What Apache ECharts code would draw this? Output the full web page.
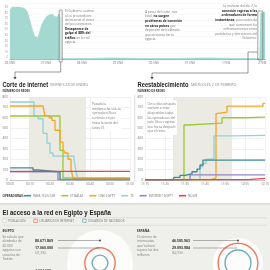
<!DOCTYPE html>
<html><head><meta charset="utf-8">
<script src="https://cdn.jsdelivr.net/npm/echarts@6/dist/echarts.min.js"></script>
<style>html,body{margin:0;padding:0;background:#fff}#c{width:270px;height:270px}</style>
</head><body><div id="c"></div>
<script>
// ---------- DATA ----------
const trafficDays = ['26 ENE','27 ENE','28 ENE','29 ENE','30 ENE','31 ENE','1 FEB','2 FEB'];
// hours since 26 ENE 12:00
const trafficHours  = [0,0.7,1.5,3,5,7,9,10.5,11.5,12.5,13.5,14.5,15.5,16.5,17.5,18.5,19.5,20.5,21.5,22.5,23.5,24.5,25.5,26.5,27.5,28.5,29.5,30.5,31.5,32.5,33.3,33.8,34.3,50,70,90,110,130,150,166.5,167.2,168,170];
const trafficValues = [87,90,93,92,93,92,91,88,84,76,66,56,47,40,37,38,46,55,63,68,72,76,74,79,77,80,76,79,75,80,77,73,1,1,2,1,1,2,1,1,82,84,84];

const operators = ['RAYA TELECOM','ETISALAT','LINK EGYPT','TE','INTERNET EGYPT','NOOR'];

const cutTicks  = ['00:00','00:10','00:20','00:30','00:40','00:50','01:00'];
const restTicks = ['11:15','11:25','11:35','11:45','11:55','12:05','12:15'];
const cutShade  = [9.5, 38];
const restShade = [14, 43.5];

// [minutes, number of networks]
const cutRaya          = [[0,117],[11.5,96],[14,77],[25,5],[60,5]];
const cutEtisalat      = [[0,617],[25,285],[26.5,20],[60,20]];
const cutLink          = [[0,713],[16.5,700],[17.5,620],[19.5,600],[21,575],[22.5,480],[25,365],[26.5,300],[27.5,260],[29,200],[30.5,110],[31.5,15],[60,15]];
const cutTE            = [[0,752],[12,615],[14,590],[16.5,450],[18.5,355],[20,260],[21.5,230],[32,200],[33,80],[34,10],[60,10]];
const cutInternetEgypt = [[0,78],[24,3],[60,3]];
const cutNoor          = [[0,83],[60,83]];

const restRaya          = [[0,2],[14,3],[14.5,25],[17.5,45],[20,60],[23.5,80],[26,105],[27.5,145],[29,192],[60,192]];
const restEtisalat      = [[0,2],[19.5,530],[21,548],[38.5,600],[50,606],[60,606]];
const restLink          = [[0,2],[32.5,20],[35.5,640],[36.5,655],[41,712],[59,738],[60,738]];
const restTE            = [[0,2],[27.5,130],[29,160],[30.5,200],[34.5,425],[45,430],[60,430]];
const restInternetEgypt = [[0,2],[22.5,50],[60,50]];
const restNoor          = [[0,3],[51.5,15],[60,15]];

const countries     = ['EGIPTO','ESPAÑA'];
const population    = [80671869, 46505963];
const internetUsers = [17060000, 29093984];
const facebookUsers = [4634600, 12500000];
const internetShare = ['(21,2%)','(62,5%)'];
const circleSeriesNames = ['POBLACIÓN','USUARIOS DE INTERNET','USUARIOS DE FACEBOOK'];

// ---------- STYLE ----------
const SANS = '"Open Sans","Liberation Sans",sans-serif';
const HEAD = '"Liberation Sans",Arial,sans-serif';
const opColors = ['#3b8f96','#9bc93a','#f6a623','#93d0d8','#9184c6','#e8434e'];
const tiny = 3.2;
const fmtNum = v => v.toString().replace(/\B(?=(\d{3})+(?!\d))/g,'.');

function T(x,y,text,o){
  o = o||{};
  const st = {text:text, fontSize:o.size||tiny, fontFamily:o.family||SANS, fontWeight:o.weight||'normal',
    fill:o.color||'#7a7a7a', align:o.align||'left', verticalAlign:o.va||'top'};
  if(o.lh) st.lineHeight=o.lh;
  if(o.bg){st.backgroundColor=o.bg; st.padding=o.pad||[1,1];}
  if(o.bold){st.rich={b:{fontWeight:'bold',fill:'#222',fontSize:o.size||tiny,fontFamily:o.family||SANS,lineHeight:o.lh}};}
  const el = {type:'text',x:x,y:y,z:o.z||60,silent:true,style:st};
  if(o.sx){el.scaleX=o.sx;}
  return el;
}
function L(points,o){
  o=o||{};
  return {type:'polyline',z:o.z||55,silent:true,shape:{points:points},style:{stroke:o.color||'#555',lineWidth:o.w||0.6,fill:null}};
}
function Arrow(x,y){
  return {type:'polygon',z:56,silent:true,shape:{points:[[x-1.6,y-2.6],[x+1.6,y-2.6],[x,y]]},style:{fill:'#444'}};
}

const chart = echarts.init(document.getElementById('c'), null, {renderer:'canvas',width:270,height:270});

const midX = (ticks,idx)=>({
  type:'value',gridIndex:idx,min:0,max:60,interval:10,
  axisLine:{lineStyle:{color:'#999',width:0.5}},axisTick:{show:false},
  axisLabel:{fontSize:tiny,color:'#777',margin:3,fontFamily:SANS,formatter:v=>ticks[Math.round(v/10)]||''},
  splitLine:{show:true,lineStyle:{color:'#e6e6e6',width:0.5}}
});
const midY = idx=>({
  type:'value',gridIndex:idx,min:0,max:800,interval:100,
  axisLine:{show:false},axisTick:{show:false},
  axisLabel:{fontSize:tiny,color:'#777',margin:2,fontFamily:SANS},
  splitLine:{lineStyle:{color:'#e3e3e3',width:0.5}}
});

const cutData  = [cutRaya,cutEtisalat,cutLink,cutTE,cutInternetEgypt,cutNoor];
const restData = [restRaya,restEtisalat,restLink,restTE,restInternetEgypt,restNoor];
const drawOrder = [3,1,2,0,4,5];

const series = [];
series.push({type:'line',xAxisIndex:0,yAxisIndex:0,silent:true,showSymbol:false,
  data:trafficHours.map((h,i)=>[h,trafficValues[i]]),
  lineStyle:{width:0.5,color:'#8ccfc6'},areaStyle:{color:'#a4d9d2',opacity:1}});
series.push({type:'line',xAxisIndex:1,yAxisIndex:1,data:[],silent:true,
  markArea:{silent:true,itemStyle:{color:'#ecebe3'},data:[[{xAxis:cutShade[0]},{xAxis:cutShade[1]}]]}});
series.push({type:'line',xAxisIndex:2,yAxisIndex:2,data:[],silent:true,
  markArea:{silent:true,itemStyle:{color:'#ecebe3'},data:[[{xAxis:restShade[0]},{xAxis:restShade[1]}]]}});
[[cutData,1],[restData,2]].forEach(([set,ax])=>{
  drawOrder.forEach(i=>{
    series.push({type:'line',name:operators[i],xAxisIndex:ax,yAxisIndex:ax,step:'end',showSymbol:false,silent:true,
      data:set[i],color:opColors[i],lineStyle:{width:1.35,color:opColors[i]}});
  });
});
const baseR = 66;
const circleValues = [population,internetUsers,facebookUsers];
const circleStyles = [
  {color:'#ffffff'},
  {color:'rgba(0,0,0,0)',borderColor:'#ea5a40',borderWidth:1.4},
  {color:'rgba(0,0,0,0)',borderColor:'#4f9aa3',borderWidth:1.4}];
circleValues.forEach((vals,k)=>{
  series.push({type:'scatter',name:circleSeriesNames[k],xAxisIndex:3,yAxisIndex:3,silent:true,clip:false,
    itemStyle:circleStyles[k],
    data:countries.map((c,i)=>({value:[c,0],symbolSize:baseR*Math.sqrt(vals[i]/population[0])}))});
});

const graphics = [
  // bottom section background
  {type:'rect',z:-5,silent:true,shape:{x:0,y:204,width:270,height:66},style:{fill:'#efefeb'}},
  L([[0,203.8],[270,203.8]],{color:'#aaa',w:0.6}),
  L([[3,217.8],[267,217.8]],{color:'#cfcfca',w:0.5}),
  L([[3,225.3],[267,225.3]],{color:'#cfcfca',w:0.5}),
  // separator between the two network charts
  L([[134.8,95],[134.8,182]],{color:'#bbb',w:0.5}),
  // brackets on traffic chart
  {type:'rect',z:55,silent:true,shape:{x:59.2,y:10,width:3,height:52,r:0.6},style:{fill:'rgba(240,240,240,0.6)',stroke:'#666',lineWidth:0.6}},
  {type:'rect',z:55,silent:true,shape:{x:257.8,y:11,width:5,height:49,r:0.6},style:{fill:'rgba(0,0,0,0)',stroke:'#666',lineWidth:0.6}},
  L([[60.7,62],[60.7,72],[15,72],[15,77]]), Arrow(15,79.5),
  L([[257.8,52],[248,52],[248,73],[152,73],[152,77]]), Arrow(152,79.5),
  // traffic annotations
  T(65,9,'El Gobierno ordena\na los proveedores\nde internet el cierre\nde las conexiones.\n{b|Desaparece de}\n{b|golpe el 88% del}\n{b|tráfico} en la red\negipcia.',{lh:4.4,bold:true}),
  T(145,9.5,'A pesar del corte, casi\ntotal, {b|no surgen}\n{b|problemas de conexión}\n{b|en otros países} que\ndependen del cableado\nque atraviesa tierra\negipcia.',{lh:4.6,bold:true}),
  T(257,4,'La mañana del día 2, la\n{b|conexión regresa a las}\n{b|ordenadores de forma}\n{b|instantánea}, poco antes de\nque comiencen los\nenfrentamientos entre\npartidarios y detractores del\nGobierno.',{lh:4.6,bold:true,align:'right'}),
  // section titles
  T(2.5,80.8,'Corte de internet',{size:7.6,weight:'bold',family:HEAD,color:'#222',sx:0.75}),
  T(50,83.3,'VIERNES 28 DE ENERO',{size:3.7,color:'#888'}),
  T(2.5,89.8,'NÚMERO DE REDES',{size:2.9,weight:'bold',color:'#333'}),
  T(137.5,80.8,'Reestablecimiento',{size:7.6,weight:'bold',family:HEAD,color:'#222',sx:0.76}),
  T(191,83.3,'MIÉRCOLES 2 DE FEBRERO',{size:3.7,color:'#888'}),
  T(137.5,89.8,'NÚMERO DE REDES',{size:2.9,weight:'bold',color:'#333'}),
  // chart annotations
  T(91,100.5,'Pasada la\nmedianoche sólo la\noperadora Noor\ncontinúa en pie\nhasta la tarde del\nlunes 31.',{lh:4.8,bg:'#fff'}),
  T(146.5,100.5,'Cinco días después\nvuelven a estar\ndisponibles todas\nlas operadoras del\npaís. Noor regresa\ndos horas después\nque el resto.',{lh:4.6,bg:'#fff'}),
  // legend label
  T(2.5,196.3,'OPERADORAS:',{size:3,weight:'bold',color:'#333',va:'middle'}),
  // bottom title
  T(2.5,209,'El acceso a la red en Egipto y España',{size:7.4,weight:'bold',family:HEAD,color:'#222',sx:0.82}),
  // Egypt
  T(2.5,229.8,'EGIPTO',{size:3.2,weight:'bold',color:'#333'}),
  T(2.5,234.5,'Se calcula que\nalrededor de\n40.000\negipcios son\nusuarios de\nTwitter.',{lh:4.5}),
  T(35,240.5,fmtNum(population[0]),{size:3.5,weight:'bold',color:'#333',va:'middle'}),
  T(35,248,fmtNum(internetUsers[0]),{size:3.5,weight:'bold',color:'#333',va:'middle'}),
  T(35,253.5,internetShare[0],{size:3.2,va:'middle'}),
  T(35,270.5,fmtNum(facebookUsers[0]),{size:3.5,weight:'bold',color:'#333',va:'middle'}),
  L([[58,240.5],[100,240.5]],{color:'#666',w:0.5}),
  {type:'circle',z:70,silent:true,shape:{cx:100,cy:240.5,r:0.9},style:{fill:'#333'}},
  L([[58,248],[100,248]],{color:'#666',w:0.5}),
  // Spain
  T(137,229.8,'ESPAÑA',{size:3.2,weight:'bold',color:'#333'}),
  T(137,234.5,'El número de\ninternautas\nque \'tuitean\'\nsupera los dos\nmillones.',{lh:4.5}),
  T(172,240.5,fmtNum(population[1]),{size:3.5,weight:'bold',color:'#333',va:'middle'}),
  T(172,248,fmtNum(internetUsers[1]),{size:3.5,weight:'bold',color:'#333',va:'middle'}),
  T(172,253.5,internetShare[1],{size:3.2,va:'middle'}),
  L([[193,240.5],[238,240.5]],{color:'#666',w:0.5}),
  {type:'circle',z:70,silent:true,shape:{cx:238,cy:240.5,r:0.9},style:{fill:'#333'}},
  L([[193,248],[237,248]],{color:'#666',w:0.5})
];

chart.setOption({
  animation:false,
  backgroundColor:'#fff',
  textStyle:{fontFamily:SANS},
  grid:[
    {left:10,top:3,width:255,height:56,outerBoundsMode:'none'},
    {left:10,top:97,width:120,height:83,outerBoundsMode:'none'},
    {left:145,top:97,width:120,height:83,outerBoundsMode:'none'},
    {left:31,top:253,width:276,height:20,outerBoundsMode:'none'}
  ],
  xAxis:[
    {type:'value',gridIndex:0,min:0,max:170,interval:24,
      axisLine:{lineStyle:{color:'#888',width:0.6}},axisTick:{show:false},splitLine:{show:false},
      axisLabel:{fontSize:tiny,color:'#777',margin:2.5,showMaxLabel:true,formatter:v=>(v%24===0?trafficDays[v/24]:'')}},
    midX(cutTicks,1), midX(restTicks,2),
    {type:'category',gridIndex:3,data:countries,show:false,boundaryGap:true}
  ],
  yAxis:[
    {type:'value',gridIndex:0,min:0,max:100,interval:10,axisLine:{show:false},axisTick:{show:false},
      axisLabel:{fontSize:2.8,color:'#999',margin:2,verticalAlign:'bottom',showMaxLabel:false},
      splitLine:{lineStyle:{color:'#f0f0f0',width:0.5}}},
    midY(1), midY(2),
    {type:'value',gridIndex:3,min:-1,max:1,show:false}
  ],
  legend:[
    {data:operators,left:24,top:194.2,padding:0,itemWidth:7,itemHeight:1.6,itemGap:6,icon:'rect',selectedMode:false,
      textStyle:{fontSize:3.1,color:'#777',fontFamily:SANS,padding:[0,0,0,-3]}},
    {data:[{name:'POBLACIÓN',itemStyle:{color:'#fff',borderColor:'#bbb',borderWidth:0.5}},
           {name:'USUARIOS DE INTERNET',itemStyle:{color:'#fff',borderColor:'#ea5a40',borderWidth:0.8}},
           {name:'USUARIOS DE FACEBOOK',itemStyle:{color:'#fff',borderColor:'#4f9aa3',borderWidth:0.8}}],
      left:2.5,top:218.6,padding:0,itemWidth:3.4,itemHeight:3.4,itemGap:8,icon:'rect',selectedMode:false,
      textStyle:{fontSize:3.1,color:'#777',fontFamily:SANS,padding:[0,0,0,-3]}}
  ],
  series:series,
  graphic:{elements:graphics}
});
</script>
</body></html>
